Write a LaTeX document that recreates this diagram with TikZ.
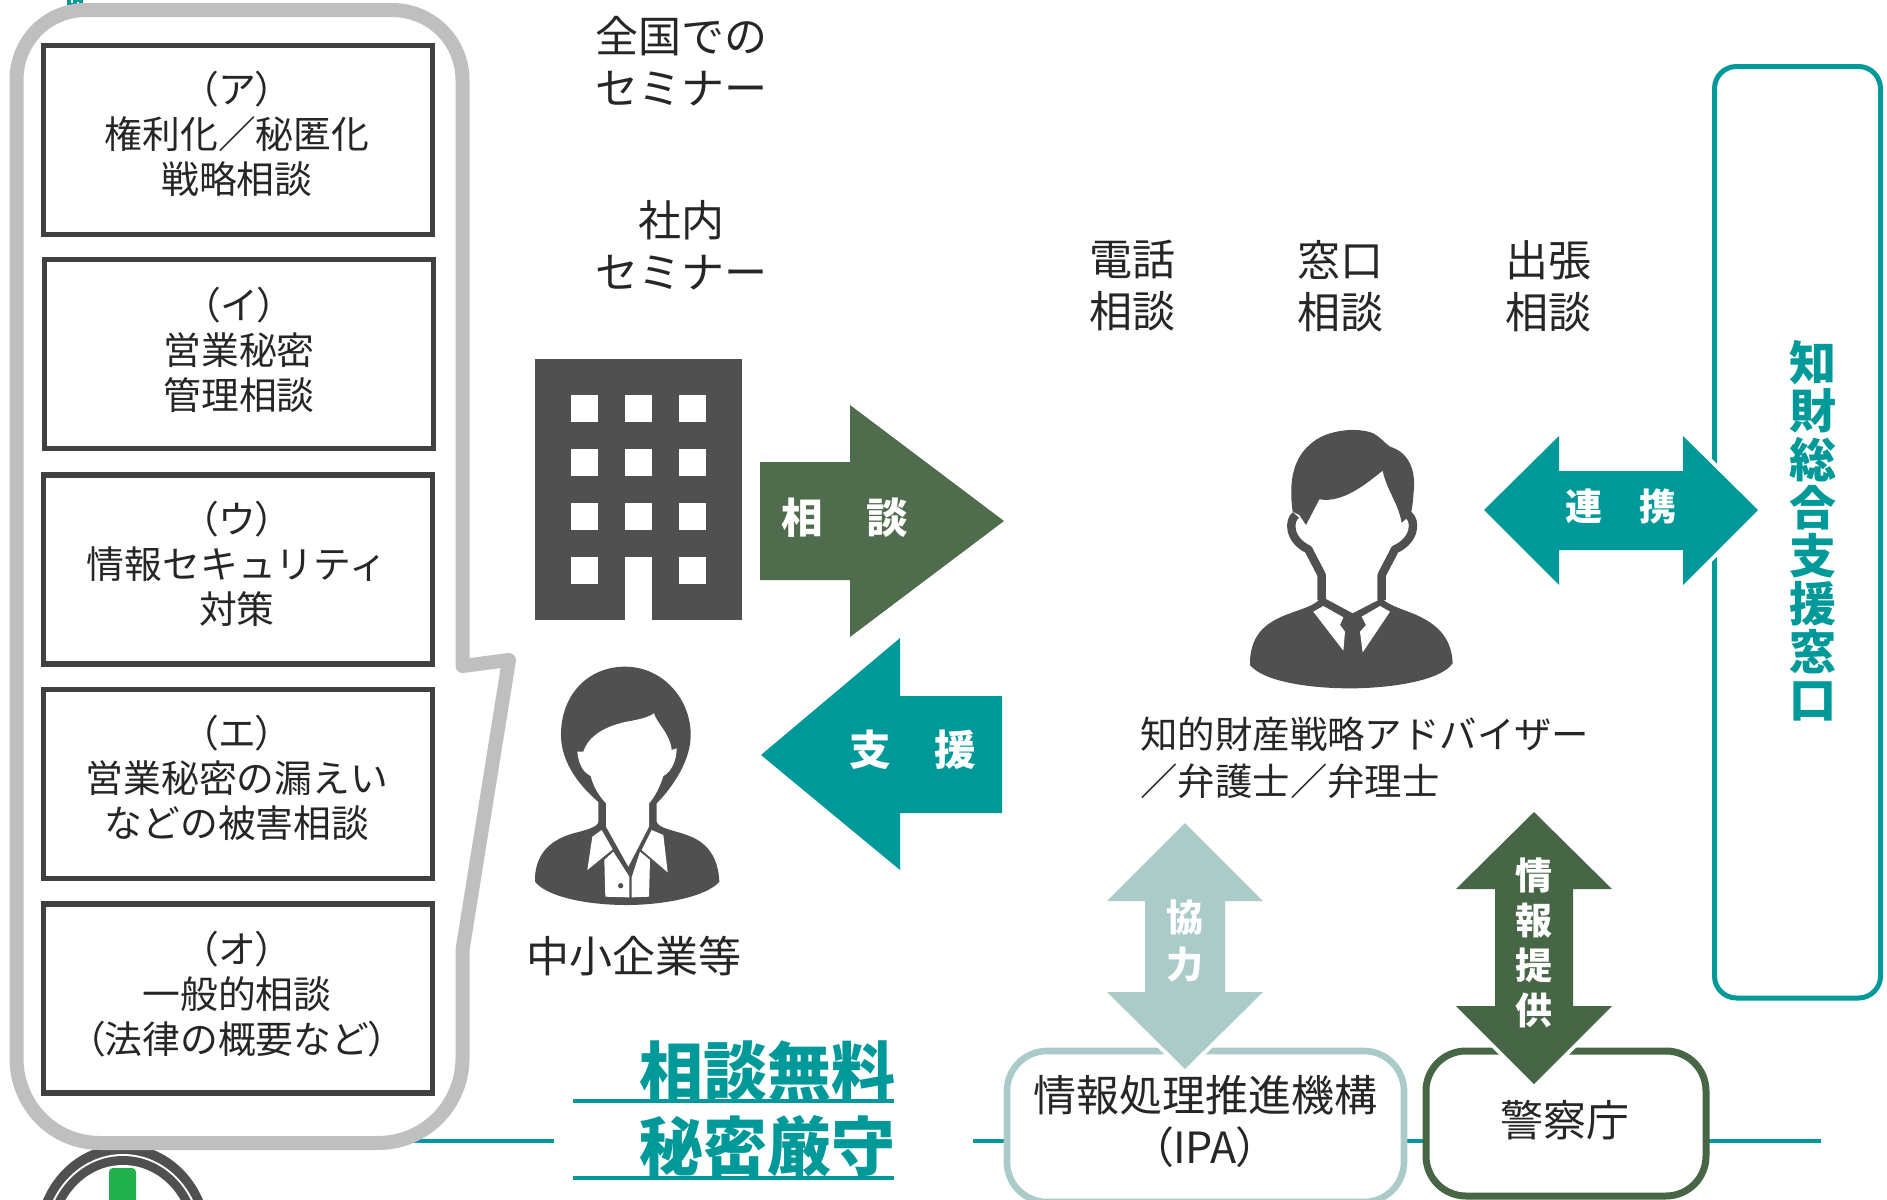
\documentclass[tikz,border=0pt]{standalone}
\usepackage{fontspec}
\setmainfont{Noto Sans CJK JP}
\newfontfamily\jpp{Noto Sans CJK JP}[RawFeature=+palt]
\newcommand{\lpn}{{\jpp （}}
\newcommand{\rpn}{{\jpp ）}}
\definecolor{txt}{HTML}{262626}
\definecolor{boxline}{HTML}{404040}
\definecolor{bubble}{HTML}{BFBFBF}
\definecolor{teal}{HTML}{009999}
\definecolor{dkgreen}{HTML}{466646}
\definecolor{midgreen}{HTML}{4F6D4C}
\definecolor{pale}{HTML}{ABCBC9}
\definecolor{icon}{HTML}{505050}
\definecolor{logogreen}{HTML}{22B14C}
\tikzset{
  itembox/.style={draw=boxline,line width=2.8pt,fill=white,minimum width=194.5pt,minimum height=94.5pt,inner sep=0pt},
  itemtext/.style={inner sep=0pt,align=center,text=txt,font=\fontsize{18.9}{22.5}\selectfont},
  lbl/.style={inner sep=0pt,align=center,text=txt,font=\fontsize{21.5}{26}\selectfont},
  advtext/.style={inner sep=0pt,align=left,text=txt,font=\fontsize{18.7}{23.5}\selectfont},
  wlabel/.style={inner sep=0pt,align=center,text=white,font=\bfseries\fontsize{20.8}{24}\selectfont},
  vlabel/.style={inner sep=0pt,align=center,text=white,font=\bfseries\fontsize{18.5}{22.5}\selectfont},
  slogan/.style={inner sep=0pt,text=teal,font=\bfseries\fontsize{32}{36}\selectfont},
  blockarrow/.style={preaction={draw=white,line width=4pt,line join=miter}},
  tealline/.style={draw=teal,line width=2.2pt},
}
\begin{document}
\begin{tikzpicture}[x=0.5pt,y=-0.5pt]
\useasboundingbox (0,0) rectangle (1887,1200);
\clip (0,0) rectangle (1887,1200);
\fill[white] (0,0) rectangle (1887,1200);

% horizontal teal rule
\coordinate (r1a) at (380,1141); \coordinate (r1b) at (554,1141);
\coordinate (r2a) at (973,1141); \coordinate (r2b) at (1821,1141);
\draw[tealline] (r1a) -- (r1b);
\draw[tealline] (r2a) -- (r2b);

% cropped logo
\fill[icon] (123,1240) ellipse [x radius=88,y radius=96];
\fill[white] (123,1240) ellipse [x radius=79,y radius=86];
\fill[icon] (123,1240) ellipse [x radius=77,y radius=84];
\fill[white] (123,1240) ellipse [x radius=68,y radius=75];
\fill[logogreen,rounded corners=2pt] (109,1168) rectangle (136,1215);

% cropped fragment above the bubble
\fill[teal] (67,0) rectangle (83,6);
\fill[white] (71,0) rectangle (73,3);
\fill[white] (77,2) rectangle (79,4);

% speech bubble
\draw[bubble,fill=white,line width=7pt,line join=round]
  (86,10) -- (392,10) .. controls (431,10) and (462.5,41) .. (462.5,80)
  -- (462.5,666) -- (509,660) -- (462.5,950) -- (462.5,1058)
  .. controls (462.5,1105) and (425,1143) .. (378,1143)
  -- (100,1143) .. controls (53,1143) and (16.5,1105) .. (16.5,1058)
  -- (16.5,80) .. controls (16.5,41) and (47,10) .. (86,10) -- cycle;

% list boxes
\node[itembox] (boxa) at (238,140) {};
\node[itembox] (boxi) at (239,354) {};
\node[itembox] (boxu) at (238,569.5) {};
\node[itembox] (boxe) at (238,784) {};
\node[itembox] (boxo) at (238,998.5) {};
\node[itemtext] (ta) at (237,134) {\lpn ア\rpn\\権利化／秘匿化\\戦略相談};
\node[itemtext] (ti) at (239,350) {\lpn イ\rpn\\営業秘密\\管理相談};
\node[itemtext] (tu) at (237,564) {\lpn ウ\rpn\\情報セキュリティ\\対策};
\node[itemtext] (te) at (237,778) {\lpn エ\rpn\\営業秘密の漏えい\\などの被害相談};
\node[itemtext] (to) at (237,994) {\lpn オ\rpn\\一般的相談\\\lpn 法律の概要など\rpn};

% seminar and consult labels
\node[lbl] (zenkoku) at (681,61) {全国での\\セミナー};
\node[lbl] (shanai) at (681,245) {社内\\セミナー};
\node[lbl] (denwa) at (1132,286) {電話\\相談};
\node[lbl] (madoguchi) at (1340,286) {窓口\\相談};
\node[lbl] (shutcho) at (1548,286) {出張\\相談};
\node[lbl] (chusho) at (634,956) {中小企業等};
\node[advtext,anchor=north west] (adv) at (1140,717) {知的財産戦略アドバイザー\\／弁護士／弁理士};

% building
\fill[icon] (535,359) rectangle (742,620);
\foreach \wx in {571,625,679}{\foreach \wy in {395,449,503}{\fill[white] (\wx,\wy) rectangle ++(27,27);}}
\fill[white] (571,557) rectangle ++(27,27);
\fill[white] (679,557) rectangle ++(27,27);
\fill[white] (625,557) rectangle (652,621);

% woman
\begin{scope}[shift={(500,640)},x=0.16667pt,y=-0.16667pt]
\fill[icon] (300,490) .. controls (240,440) and (185,370) .. (183,290)
  .. controls (180,170) and (260,80) .. (375,80)
  .. controls (490,80) and (575,180) .. (572,290)
  .. controls (570,370) and (510,450) .. (470,490) -- cycle;
\fill[icon] (105,710) .. controls (110,640) and (150,600) .. (220,580)
  .. controls (260,570) and (295,560) .. (295,545) -- (295,480) -- (470,480) -- (470,545)
  .. controls (475,565) and (520,570) .. (560,585)
  .. controls (620,605) and (655,650) .. (658,725)
  .. controls (620,770) and (490,795) .. (380,795)
  .. controls (260,795) and (140,770) .. (105,725) -- cycle;
\fill[white] (232,335) -- (250,335) .. controls (265,290) and (310,260) .. (380,245)
  .. controls (420,238) and (445,232) .. (462,220)
  .. controls (470,250) and (510,280) .. (515,330) -- (530,325)
  .. controls (530,360) and (515,395) .. (490,408)
  .. controls (480,440) and (465,470) .. (447,490)
  -- (447,560) -- (385,680) -- (318,560) -- (318,490)
  .. controls (295,465) and (280,440) .. (272,408)
  .. controls (245,395) and (235,365) .. (232,335) -- cycle;
\fill[white] (305,570) -- (338,628) -- (262,690) -- (277,590) -- cycle;
\fill[white] (455,570) -- (490,585) -- (503,697) -- (425,630) -- cycle;
\fill[white] (313,660) -- (340,635) -- (388,710) -- (388,772) -- (316,770) -- cycle;
\fill[white] (420,635) -- (450,660) -- (447,770) -- (395,772) -- (395,712) -- cycle;
\fill[icon] (362,737) circle [radius=8];
\end{scope}

% man
\begin{scope}[shift={(1200,400)},x=0.16667pt,y=-0.16667pt]
\fill[icon] (278,335) .. controls (265,240) and (280,170) .. (340,125)
  .. controls (385,90) and (470,80) .. (520,100)
  .. controls (545,115) and (555,130) .. (570,140)
  .. controls (620,155) and (645,200) .. (642,260)
  .. controls (640,290) and (638,320) .. (632,345)
  -- (605,368) .. controls (595,310) and (560,270) .. (548,212)
  .. controls (500,250) and (430,310) .. (358,298)
  -- (318,375) -- (298,345) -- cycle;
\draw[icon,line width=4.2pt,line join=round] (288,345) .. controls (265,360) and (265,420) .. (325,448)
  -- (365,525) -- (365,600);
\draw[icon,line width=4.2pt,line join=round] (625,345) .. controls (648,360) and (648,420) .. (585,448)
  -- (545,525) -- (545,600);
\fill[icon] (150,780) .. controls (155,700) and (200,665) .. (270,640)
  .. controls (310,625) and (350,615) .. (365,590) -- (458,640) -- (545,595)
  .. controls (570,620) and (620,630) .. (660,650)
  .. controls (720,680) and (755,720) .. (758,790)
  .. controls (720,845) and (560,865) .. (450,865)
  .. controls (330,865) and (190,845) .. (150,795) -- cycle;
\fill[white] (340,635) -- (370,618) -- (430,652) -- (420,675) -- (435,695) -- (430,752) -- cycle;
\fill[white] (570,635) -- (540,618) -- (485,650) -- (498,675) -- (480,695) -- (488,757) -- cycle;
\end{scope}

% right panel
\draw[teal,line width=2.5pt,fill=white,rounded corners=11pt] (1714.5,66.5) rectangle (1880.5,998);
\node[inner sep=0pt,align=center,text=teal,font=\bfseries\fontsize{23.5}{24.05}\selectfont] (panel) at (1813,531) {知\\財\\総\\合\\支\\援\\窓\\口};

% organisations
\draw[pale,line width=3.3pt,fill=white,rounded corners=20pt] (1007,1051) rectangle (1404,1202);
\draw[dkgreen,line width=3.5pt,fill=white,rounded corners=20pt] (1426,1051) rectangle (1706,1196);
\node[lbl] (ipa) at (1205,1121) {情報処理推進機構\\\lpn IPA\rpn};
\node[lbl] (police) at (1565,1120) {警察庁};

% block arrows
\fill[midgreen,blockarrow] (760,462) -- (850,462) -- (850,405) -- (1004,521) -- (850,637) -- (850,580) -- (760,580) -- cycle;
\node[wlabel] (lsodan) at (845,518) {相\hspace{22pt}談};
\fill[teal,blockarrow] (761,755) -- (900,638) -- (900,696) -- (1002,696) -- (1002,813) -- (900,813) -- (900,870) -- cycle;
\node[wlabel] (lshien) at (913,750) {支\hspace{22pt}援};
\fill[teal,blockarrow] (1484,510) -- (1559,436) -- (1559,471) -- (1683,471) -- (1683,436) -- (1758,510) -- (1683,585) -- (1683,550) -- (1559,550) -- (1559,585) -- cycle;
\node[inner sep=0pt,text=white,font=\bfseries\fontsize{18.5}{22}\selectfont] (lrenkei) at (1621,506) {連　携};
\fill[pale,blockarrow] (1185,823) -- (1263,901) -- (1225,901) -- (1225,992) -- (1263,992) -- (1185,1069) -- (1107,992) -- (1145,992) -- (1145,901) -- (1107,901) -- cycle;
\node[vlabel,font=\bfseries\fontsize{18.5}{23.5}\selectfont] (lkyoryoku) at (1185,941) {協\\力};
\fill[dkgreen,blockarrow] (1534,812) -- (1612,889) -- (1573,889) -- (1573,1006) -- (1612,1006) -- (1534,1084) -- (1456,1006) -- (1495,1006) -- (1495,889) -- (1456,889) -- cycle;
\node[vlabel] (ljoho) at (1534,943) {情\\報\\提\\供};

% slogan
\node[slogan] (s1) at (767,1071) {相談無料};
\node[slogan] (s2) at (767,1146) {秘密厳守};
\coordinate (u1a) at (573,1101); \coordinate (u1b) at (894,1101);
\coordinate (u2a) at (573,1178); \coordinate (u2b) at (894,1178);
\draw[tealline] (u1a) -- (u1b);
\draw[tealline] (u2a) -- (u2b);
\end{tikzpicture}
\end{document}
